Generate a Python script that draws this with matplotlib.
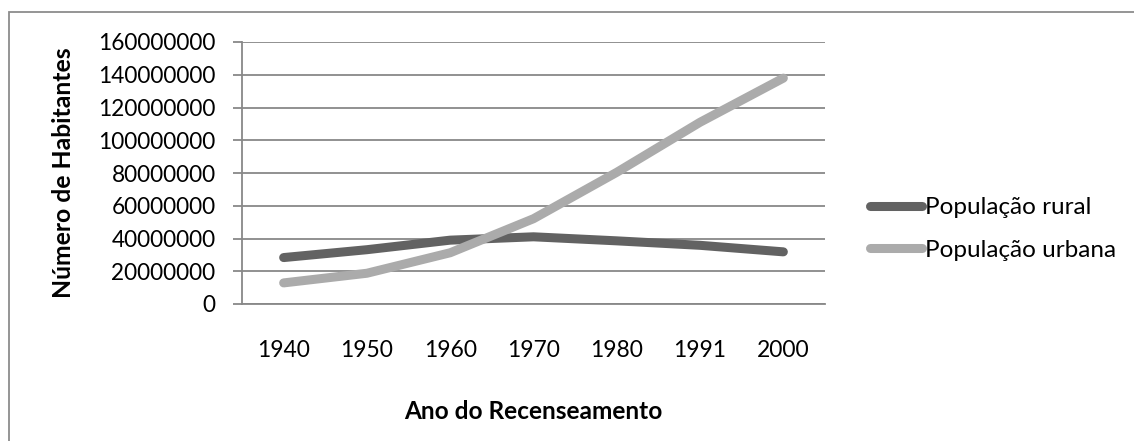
import matplotlib
matplotlib.use("Agg")
import matplotlib.pyplot as plt
from matplotlib.patches import Rectangle

plt.rcParams['font.family'] = ['Lato', 'DejaVu Sans']

anos = ["1940", "1950", "1960", "1970", "1980", "1991", "2000"]
rural = [28356133, 33161506, 38987526, 41037586, 38566297, 35834485, 31845211]
urbana = [12880182, 18782891, 31303034, 52084984, 80436409, 110990990, 137953959]
yticks = [0, 20000000, 40000000, 60000000, 80000000, 100000000, 120000000, 140000000, 160000000]

W, H = 1134, 441
fig = plt.figure(figsize=(W / 100, H / 100), dpi=100)
fig.patch.set_facecolor('white')

# outer chart border (top and left visible)
fig.add_artist(Rectangle((9 / W, -0.1), 1.2, (441 - 12) / H + 0.1, transform=fig.transFigure,
                         fill=False, edgecolor='#8c8c8c', linewidth=1.3))

ax = fig.add_axes([242 / W, (441 - 304) / H, (825 - 242) / W, (304 - 42) / H])
x = list(range(len(anos)))
ax.plot(x, rural, color='#626262', linewidth=6.5, solid_capstyle='round', label='População rural')
ax.plot(x, urbana, color='#ababab', linewidth=6.5, solid_capstyle='round', label='População urbana')

ax.set_xlim(-0.5, len(anos) - 0.5)
ax.set_ylim(0, 160000000)
ax.set_yticks(yticks)
ax.set_yticklabels([str(v) for v in yticks], fontsize=16.3)
ax.set_xticks(x)
ax.set_xticklabels(anos, fontsize=16.5)
ax.yaxis.grid(True, color='#888888', linewidth=1.3)
ax.set_axisbelow(True)
for s in ['top', 'right']:
    ax.spines[s].set_visible(False)
ax.spines['left'].set_color('#888888')
ax.spines['bottom'].set_color('#888888')
ax.spines['left'].set_linewidth(1.3)
ax.spines['bottom'].set_linewidth(1.3)
ax.tick_params(axis='y', length=6.5, width=1.3, color='#888888', pad=12.5)
ax.tick_params(axis='x', length=0, pad=26)

ax.set_xlabel('Ano do Recenseamento', fontsize=17.6, fontweight='bold', labelpad=28)
ax.set_ylabel('Número de Habitantes', fontsize=17.8, fontweight='bold', labelpad=17)

leg = ax.legend(loc='center left', bbox_to_anchor=(858 / W, (441 - 229) / H),
                bbox_transform=fig.transFigure, frameon=False, fontsize=17.5,
                handlelength=2.15, handletextpad=0.12, labelspacing=0.9, borderpad=0)

fig.savefig('out.png', dpi=100)
